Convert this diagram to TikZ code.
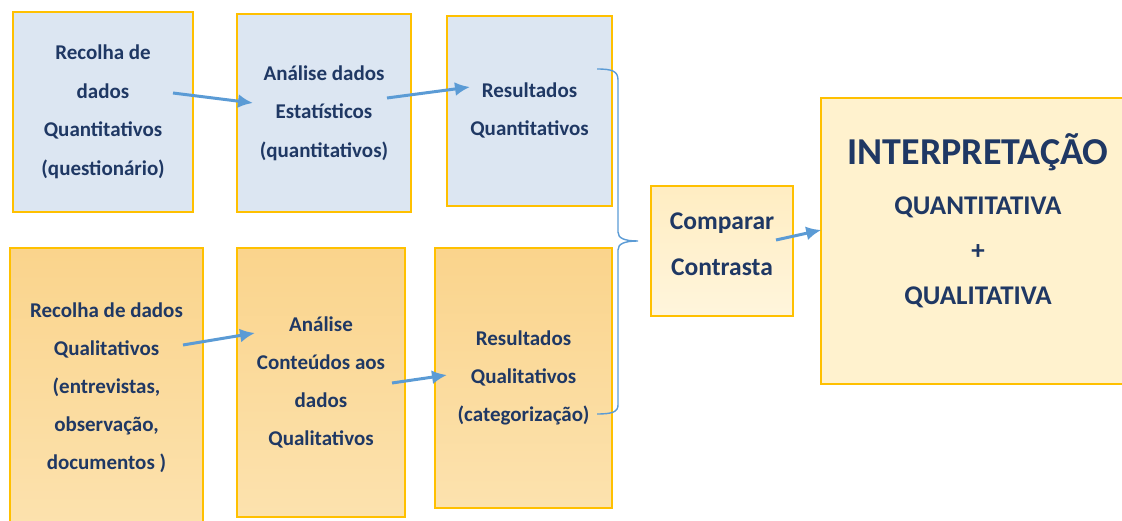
\documentclass[tikz,border=0pt]{standalone}
\usepackage{fontspec}
\setmainfont{Carlito}
\usetikzlibrary{arrows.meta,positioning,calc}
\definecolor{txtblue}{RGB}{31,56,100}
\definecolor{quantfill}{RGB}{220,230,242}
\definecolor{gold}{RGB}{255,192,0}
\definecolor{arrowblue}{RGB}{91,155,213}
\definecolor{qualtop}{RGB}{250,212,140}
\definecolor{qualbot}{RGB}{252,226,174}
\definecolor{cmptop}{RGB}{255,237,194}
\definecolor{cmpbot}{RGB}{255,245,220}
\definecolor{interpfill}{RGB}{255,242,206}
\tikzstyle{quantblock}=[draw=gold, line width=1.5pt, fill=quantfill, rectangle, align=center, text=txtblue, font=\bfseries\fontsize{21}{38.5}\selectfont]
\tikzstyle{qualblock}=[draw=gold, line width=1.5pt, top color=qualtop, bottom color=qualbot, rectangle, align=center, text=txtblue, font=\bfseries\fontsize{21}{38}\selectfont]
\tikzstyle{cmpblock}=[draw=gold, line width=1.5pt, top color=cmptop, bottom color=cmpbot, rectangle, align=center, text=txtblue, font=\bfseries\fontsize{25.5}{46}\selectfont]
\tikzstyle{interpblock}=[draw=gold, line width=1.5pt, fill=interpfill, rectangle, text=txtblue, font=\bfseries]
\tikzstyle{flow}=[-{Latex[length=15pt,width=14pt]}, line width=3pt, arrowblue]
\tikzstyle{brace}=[line width=1.4pt, arrowblue]

\begin{document}
\begin{tikzpicture}[x=1pt, y=-1pt]
  \useasboundingbox (0,0) rectangle (1122,521);
  % quantitative row
  \node[quantblock, minimum width=180pt, minimum height=200pt] (q1) at (103,112) {Recolha de\\dados\\Quantitativos\\(questionário)};
  \node[quantblock, minimum width=174pt, minimum height=198pt] (q2) at (324,113) {Análise dados\\Estatísticos\\(quantitativos)};
  \node[quantblock, minimum width=165pt, minimum height=190pt] (q3) at (529.5,111) {Resultados\\Quantitativos\rule[-4pt]{0pt}{0pt}};
  % qualitative row
  \node[qualblock, minimum width=193pt, minimum height=280pt] (l1) at (106.5,388) {Recolha de dados\\Qualitativos\\(entrevistas,\\observação,\\documentos )};
  \node[qualblock, minimum width=168pt, minimum height=269pt] (l2) at (321,382.5) {Análise\\Conteúdos aos\\dados\\Qualitativos};
  \node[qualblock, minimum width=177pt, minimum height=260pt] (l3) at (523.5,378) {Resultados\\Qualitativos\\(categorização)};
  % compare and interpretation
  \node[cmpblock, minimum width=142pt, minimum height=130pt] (cmp) at (722,251) {Comparar\\Contrasta\rule[-14pt]{0pt}{0pt}};
  \node[interpblock, minimum width=314pt, minimum height=286pt, text width=296pt, align=center] (interp) at (978,241) {%
    {\fontsize{38}{40}\selectfont INTERPRETAÇÃO\par}\vspace{5pt}
    {\fontsize{27}{45}\selectfont QUANTITATIVA\\+\\QUALITATIVA\rule[-44pt]{0pt}{0pt}\par}};
  % brace points
  \coordinate (bt) at (597,69);
  \coordinate (bm) at (638,241);
  \coordinate (bb) at (597,414);
  \draw[brace] (bt) .. controls (612,69) and (618,71) .. (618,80) -- (618,232)
    .. controls (618,238) and (624,241) .. (bm)
    .. controls (624,241) and (618,244) .. (618,250) -- (618,405)
    .. controls (618,412) and (612,414) .. (bb);
  % arrows
  \draw[flow] ([shift={(70,-19)}]q1.center) -- ([shift={(-71,-10)}]q2.center);
  \draw[flow] ([shift={(63,-15)}]q2.center) -- ([shift={(-59.5,-24)}]q3.center);
  \draw[flow] ([shift={(76.5,-43)}]l1.center) -- ([shift={(-66,-49.5)}]l2.center);
  \draw[flow] ([shift={(71,0.5)}]l2.center) -- ([shift={(-76.5,-3)}]l3.center);
  \draw[flow] ([shift={(54,-11)}]cmp.center) -- ([shift={(1,-11)}]interp.west);
\end{tikzpicture}
\end{document}
